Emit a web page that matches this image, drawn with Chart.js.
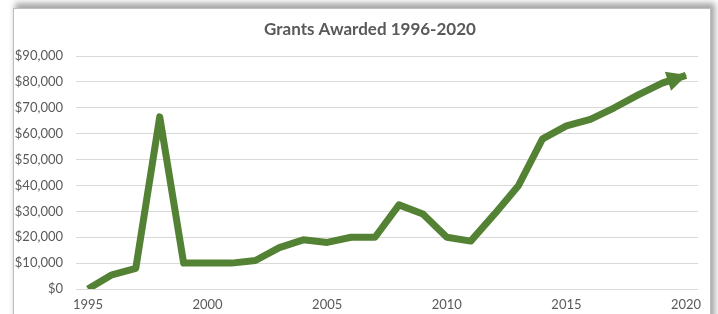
<!DOCTYPE html>
<html>
<head>
<meta charset="utf-8">
<script src="https://cdn.jsdelivr.net/npm/chart.js@4.4.0/dist/chart.umd.min.js"></script>
<style>
  html, body { margin: 0; padding: 0; background: #ffffff; width: 718px; height: 314px; overflow: hidden; }
  #card { position: absolute; left: 13px; top: 8px; width: 696px; height: 330px; background: #fff;
          border-left: 1px solid #bdbdbd; border-top: 1px solid #bdbdbd; border-right: 1px solid #bdbdbd;
          box-shadow: 3px -4px 6px 1px rgba(0,0,0,0.35); }
  #wrap { position: absolute; left: 0; top: 0; width: 696px; height: 305px; }
</style>
</head>
<body>
<div id="card"><div id="wrap"><canvas id="c" width="696" height="305"></canvas></div></div>
<script>
const chartTitle = 'Grants Awarded 1996-2020';
const years = [1995,1996,1997,1998,1999,2000,2001,2002,2003,2004,2005,2006,2007,2008,2009,2010,2011,2012,2013,2014,2015,2016,2017,2018,2019,2020];
const grants = [0,5500,8000,66500,10000,10000,10000,11000,16000,19000,18000,20000,20000,32500,29000,20000,18500,29000,40000,58000,63000,65500,70000,75000,79500,82500];
const xTicks = [1995,2000,2005,2010,2015,2020];
const yTicks = [0,10000,20000,30000,40000,50000,60000,70000,80000,90000];

const lineColor = '#548235';
const textColor = '#595959';
const fontFamily = 'Lato, "Open Sans", sans-serif';

const titlePlugin = {
  id: 'cardTitle',
  afterDraw(chart) {
    const ctx = chart.ctx;
    ctx.save();
    ctx.font = 'bold 17px ' + fontFamily;
    ctx.fillStyle = textColor;
    ctx.textAlign = 'center';
    ctx.textBaseline = 'middle';
    ctx.fillText(chartTitle, 356, 21);
    ctx.restore();
  }
};

const arrowPlugin = {
  id: 'arrowHead',
  afterDatasetsDraw(chart) {
    const meta = chart.getDatasetMeta(0);
    const pts = meta.data;
    if (pts.length < 2) return;
    const p1 = pts[pts.length - 2], p2 = pts[pts.length - 1];
    const ang = Math.atan2(p2.y - p1.y, p2.x - p1.x);
    const len = 20, half = 10;
    const ctx = chart.ctx;
    ctx.save();
    ctx.translate(p2.x, p2.y);
    ctx.rotate(ang);
    ctx.beginPath();
    ctx.moveTo(1, 0);
    ctx.lineTo(1 - len, -half);
    ctx.lineTo(1 - len, half);
    ctx.closePath();
    ctx.fillStyle = lineColor;
    ctx.fill();
    ctx.restore();
  }
};

new Chart(document.getElementById('c'), {
  type: 'line',
  data: {
    datasets: [{
      data: years.map((y, i) => ({ x: y, y: grants[i] })),
      borderColor: lineColor,
      borderWidth: 7,
      borderJoinStyle: 'round',
      borderCapStyle: 'butt',
      pointRadius: 0,
      tension: 0,
      fill: false
    }]
  },
  options: {
    responsive: false,
    animation: false,
    events: [],
    layout: { padding: { left: 0, right: 12, top: 47, bottom: 0 } },
    plugins: {
      legend: { display: false },
      tooltip: { enabled: false },
      title: { display: false }
    },
    scales: {
      x: {
        type: 'linear',
        min: 1994.5,
        max: 2020.5,
        afterBuildTicks(s) { s.ticks = xTicks.map(v => ({ value: v })); },
        afterFit(s) { s.height = 25; },
        grid: { display: false, drawTicks: false },
        border: { display: false },
        ticks: {
          color: textColor,
          font: { family: fontFamily, size: 13 },
          padding: 8,
          maxRotation: 0,
          callback: v => String(v)
        }
      },
      y: {
        min: 0,
        max: 90000,
        afterBuildTicks(s) { s.ticks = yTicks.map(v => ({ value: v })); },
        afterFit(s) { s.width = 62; },
        grid: { color: '#d9d9d9', lineWidth: 1, drawTicks: false },
        border: { display: false },
        ticks: {
          color: textColor,
          font: { family: fontFamily, size: 13 },
          padding: 13,
          callback: v => '$' + v.toLocaleString('en-US')
        }
      }
    }
  },
  plugins: [arrowPlugin, titlePlugin]
});
</script>
</body>
</html>
